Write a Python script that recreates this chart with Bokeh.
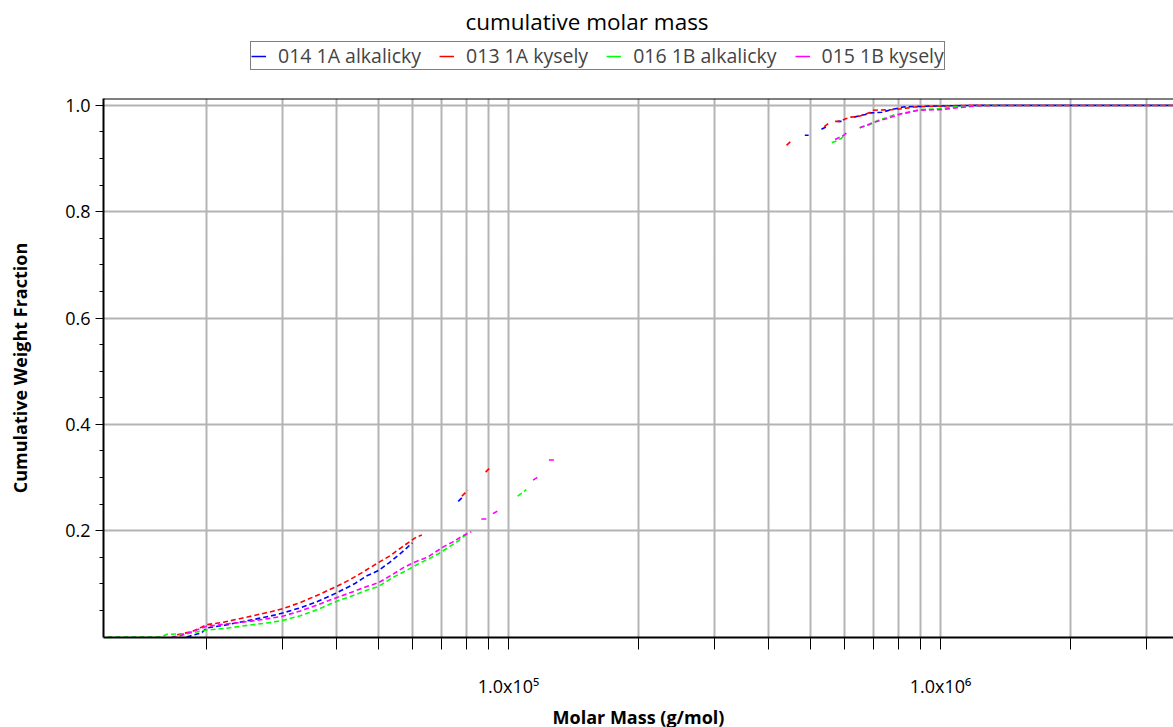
from bokeh.plotting import figure
from bokeh.models import FixedTicker, Legend, LegendItem, Range1d, Label, Span
from bokeh.layouts import column
from bokeh.embed import file_html
from bokeh.resources import INLINE

nan = float("nan")

# --- data ---
series_names = ["014 1A alkalicky", "013 1A kysely", "016 1B alkalicky", "015 1B kysely"]
series_colors = ["#0000ff", "#ff0000", "#00ff00", "#ff00ff"]

blue_m = [18000, 19500, 20000, 22000, 25000, 28000, 30000, 33000, 36000, 40000, 44000, 47000, 50000, 53000, 56600, 59900, nan,
          76500, 78500, nan,
          485000, 495000, nan, 530000, 545000, nan, 578000, 590000, nan, 630000, 670000, 690000, 731000, 770000, 819000, 870000,
          1000000, 1200000, 3460000]
blue_w = [0.0, 0.008, 0.017, 0.022, 0.031, 0.039, 0.045, 0.055, 0.066, 0.083, 0.100, 0.115, 0.125, 0.140, 0.159, 0.177, nan,
          0.255, 0.264, nan,
          0.944, 0.944, nan, 0.955, 0.960, nan, 0.970, 0.970, nan, 0.978, 0.983, 0.986, 0.987, 0.992, 0.997, 0.998,
          0.999, 1.0, 1.0]

red_m = [17100, 18500, 20000, 22000, 25000, 28000, 30000, 33000, 36000, 40000, 43000, 46000, 50000, 53000, 57800, 61200, 63000, nan,
         78000, 80500, nan, 88500, 90500, nan,
         440000, 450000, nan, 538000, 550000, nan, 570000, 585000, 603000, 620000, 645000, 688000, 700000, 771000, 820000, 870000,
         1000000, 1150000, 3460000]
red_w = [0.004, 0.010, 0.023, 0.028, 0.038, 0.047, 0.053, 0.065, 0.078, 0.095, 0.108, 0.122, 0.140, 0.152, 0.174, 0.188, 0.192, nan,
         0.265, 0.276, nan, 0.310, 0.318, nan,
         0.925, 0.932, nan, 0.960, 0.966, nan, 0.970, 0.970, 0.975, 0.978, 0.979, 0.987, 0.991, 0.992, 0.994, 0.997,
         0.999, 1.0, 1.0]

green_m = [11800, 15700, 16200, 18000, 20000, 22000, 25000, 28000, 30000, 33000, 36000, 40000, 44000, 47000, 50000, 54000, 58000,
           62000, 65400, 69000, 73000, 76900, 80700, nan, 105000, 110000, nan,
           560000, 570000, 589000, 600000, nan, 650000, 687000, 718000, 750000, 785000, 841000, 891000, 1000000, 1110000,
           1300000, 3460000]
green_w = [0.0, 0.0, 0.005, 0.006, 0.013, 0.016, 0.022, 0.027, 0.031, 0.040, 0.051, 0.067, 0.079, 0.088, 0.095, 0.112, 0.125,
           0.138, 0.147, 0.157, 0.170, 0.182, 0.196, nan, 0.265, 0.277, nan,
           0.930, 0.932, 0.938, 0.945, nan, 0.958, 0.964, 0.972, 0.977, 0.983, 0.986, 0.992, 0.994, 0.998,
           1.0, 1.0]

magenta_m = [16600, 17500, 18500, 20000, 22000, 25000, 28000, 30000, 33000, 36000, 40000, 44000, 47000, 50000, 54000, 57000,
             60300, 64900, 70800, 74000, 78300, 82000, nan, 86500, 89000, nan, 92000, 95000, nan, 114000, 118000, nan,
             124000, 129000, nan,
             570000, 597000, 610000, nan, 650000, 700000, 749000, 817000, 891000, 1000000, 1200000, 1400000, 3460000]
magenta_w = [0.0, 0.003, 0.010, 0.020, 0.024, 0.029, 0.035, 0.039, 0.049, 0.060, 0.074, 0.086, 0.095, 0.102, 0.118, 0.130,
             0.140, 0.150, 0.170, 0.178, 0.190, 0.198, nan, 0.222, 0.222, nan, 0.232, 0.238, nan, 0.295, 0.303, nan,
             0.333, 0.333, nan,
             0.936, 0.944, 0.950, nan, 0.958, 0.968, 0.975, 0.985, 0.991, 0.992, 0.999, 1.0, 1.0]

x_ticks = [20000, 30000, 40000, 50000, 60000, 70000, 80000, 90000, 100000,
           200000, 300000, 400000, 500000, 600000, 700000, 800000, 900000, 1000000, 2000000, 3000000]
x_tick_labels = {100000: "1.0x10\u2075", 1000000: "1.0x10\u2076"}
y_ticks = [0.2, 0.4, 0.6, 0.8, 1.0]
y_minor_ticks = [0.05, 0.1, 0.15, 0.25, 0.3, 0.35, 0.45, 0.5, 0.55, 0.65, 0.7, 0.75, 0.85, 0.9, 0.95]
title_text = "cumulative molar mass"

FONT = "Open Sans"
W = 1173
LEFT = 103
FRAME_W = W - LEFT
MAIN_TOP = 14
HEADER_H = 98 - MAIN_TOP

# ---------- header: title + legend ----------
h = figure(frame_width=FRAME_W, frame_height=HEADER_H, output_backend="svg", toolbar_location=None,
           x_range=Range1d(LEFT, W), y_range=Range1d(HEADER_H, 0),
           min_border_left=LEFT, min_border_right=0, min_border_top=0, min_border_bottom=0)
h.axis.visible = False
h.grid.visible = False
h.outline_line_color = None
h.background_fill_color = "white"
h.border_fill_color = "white"

h.add_layout(Label(x=W / 2, y=21, text=title_text,
                   text_align="center", text_baseline="alphabetic", text_font=FONT, text_font_size="22.5px",
                   text_color="black"))

legend_renderers = [h.line([nan], [nan], line_color=c, line_width=1.5) for c in series_colors]
legend = Legend(items=[LegendItem(label=n, renderers=[r]) for n, r in zip(series_names, legend_renderers)],
                orientation="horizontal", location=(250 - LEFT, HEADER_H - 70))
legend.label_text_font = FONT
legend.label_text_font_size = "19.5px"
legend.glyph_width = 15
legend.glyph_height = 18
legend.label_standoff = 12
legend.spacing = 18
legend.padding = 0
legend.margin = 0
legend.border_line_color = "black"
legend.border_line_width = 1.5
legend.label_height = 18
legend.background_fill_color = "white"
h.add_layout(legend, "center")

# ---------- main plot ----------
p = figure(frame_width=FRAME_W, frame_height=539, x_axis_type="log", output_backend="svg", toolbar_location=None,
           x_range=Range1d(11550, 3460000), y_range=Range1d(-0.001, 1.013),
           min_border_left=LEFT, min_border_right=0, min_border_bottom=90, min_border_top=MAIN_TOP)

for xs, ys, c in [(blue_m, blue_w, series_colors[0]), (red_m, red_w, series_colors[1]),
                  (green_m, green_w, series_colors[2]), (magenta_m, magenta_w, series_colors[3])]:
    p.line(xs, ys, line_color=c, line_width=1.6, line_dash="5 3")

xa = p.xaxis[0]
xa.ticker = FixedTicker(ticks=x_ticks, minor_ticks=[])
xa.major_label_overrides = {t: x_tick_labels.get(t, "") for t in x_ticks}
xa.major_tick_out = 12
xa.major_tick_in = 0
xa.minor_tick_out = 0
xa.major_tick_line_color = "black"
xa.axis_line_color = "black"
xa.axis_line_width = 2
xa.major_label_text_font = FONT
xa.major_label_text_font_size = "18px"
xa.major_label_text_color = "black"
xa.major_label_standoff = 24
xa.axis_label = "Molar Mass (g/mol)"
xa.axis_label_text_font = FONT
xa.axis_label_text_font_size = "18px"
xa.axis_label_text_font_style = "bold"
xa.axis_label_text_color = "black"
xa.axis_label_standoff = 4

ya = p.yaxis[0]
ya.ticker = FixedTicker(ticks=y_ticks, minor_ticks=y_minor_ticks)
ya.major_label_overrides = {t: "%.1f" % t for t in y_ticks}
ya.major_tick_out = 8
ya.major_tick_in = 0
ya.minor_tick_out = 4
ya.minor_tick_in = 0
ya.axis_line_color = "black"
ya.axis_line_width = 2
ya.major_label_text_font = FONT
ya.major_label_text_font_size = "18px"
ya.major_label_text_color = "black"
ya.major_label_standoff = 5
ya.axis_label = "Cumulative Weight Fraction"
ya.axis_label_text_font = FONT
ya.axis_label_text_font_size = "18px"
ya.axis_label_text_font_style = "bold"
ya.axis_label_text_color = "black"
ya.axis_label_standoff = 30

p.xgrid.grid_line_color = "#b4b4b4"
p.xgrid.grid_line_width = 2
p.ygrid.grid_line_color = "#b4b4b4"
p.ygrid.grid_line_width = 2
p.ygrid.ticker = FixedTicker(ticks=y_ticks)

p.outline_line_color = None
p.add_layout(Span(location=1.013, dimension="width", line_color="black", line_width=2))
p.background_fill_color = "white"
p.border_fill_color = "white"

layout = column(h, p, spacing=0)
open("out.html", "w").write(file_html(layout, INLINE))
